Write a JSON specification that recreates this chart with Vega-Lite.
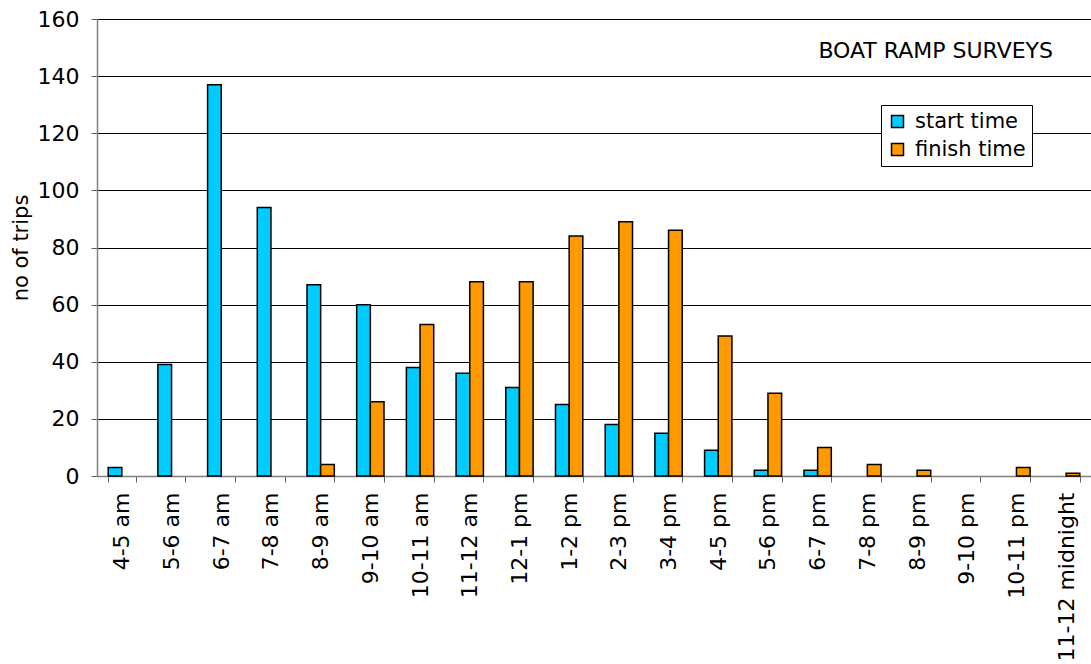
{
  "$schema": "https://vega.github.io/schema/vega-lite/v6.json",
  "width": 994,
  "height": 457,
  "autosize": {"type": "none"},
  "padding": {"left": 97, "top": 19, "right": 0, "bottom": 188},
  "background": "white",
  "title": {
    "text": "BOAT RAMP SURVEYS",
    "orient": "top",
    "anchor": "end",
    "frame": "group",
    "dx": -38,
    "dy": 59,
    "font": "DejaVu Sans",
    "fontSize": 22,
    "fontWeight": "normal",
    "color": "black"
  },
  "data": {
    "values": [
      {"time": "4-5 am", "series": "start time", "trips": 3},
      {"time": "4-5 am", "series": "finish time", "trips": 0},
      {"time": "5-6 am", "series": "start time", "trips": 39},
      {"time": "5-6 am", "series": "finish time", "trips": 0},
      {"time": "6-7 am", "series": "start time", "trips": 137},
      {"time": "6-7 am", "series": "finish time", "trips": 0},
      {"time": "7-8 am", "series": "start time", "trips": 94},
      {"time": "7-8 am", "series": "finish time", "trips": 0},
      {"time": "8-9 am", "series": "start time", "trips": 67},
      {"time": "8-9 am", "series": "finish time", "trips": 4},
      {"time": "9-10 am", "series": "start time", "trips": 60},
      {"time": "9-10 am", "series": "finish time", "trips": 26},
      {"time": "10-11 am", "series": "start time", "trips": 38},
      {"time": "10-11 am", "series": "finish time", "trips": 53},
      {"time": "11-12 am", "series": "start time", "trips": 36},
      {"time": "11-12 am", "series": "finish time", "trips": 68},
      {"time": "12-1 pm", "series": "start time", "trips": 31},
      {"time": "12-1 pm", "series": "finish time", "trips": 68},
      {"time": "1-2 pm", "series": "start time", "trips": 25},
      {"time": "1-2 pm", "series": "finish time", "trips": 84},
      {"time": "2-3 pm", "series": "start time", "trips": 18},
      {"time": "2-3 pm", "series": "finish time", "trips": 89},
      {"time": "3-4 pm", "series": "start time", "trips": 15},
      {"time": "3-4 pm", "series": "finish time", "trips": 86},
      {"time": "4-5 pm", "series": "start time", "trips": 9},
      {"time": "4-5 pm", "series": "finish time", "trips": 49},
      {"time": "5-6 pm", "series": "start time", "trips": 2},
      {"time": "5-6 pm", "series": "finish time", "trips": 29},
      {"time": "6-7 pm", "series": "start time", "trips": 2},
      {"time": "6-7 pm", "series": "finish time", "trips": 10},
      {"time": "7-8 pm", "series": "start time", "trips": 0},
      {"time": "7-8 pm", "series": "finish time", "trips": 4},
      {"time": "8-9 pm", "series": "start time", "trips": 0},
      {"time": "8-9 pm", "series": "finish time", "trips": 2},
      {"time": "9-10 pm", "series": "start time", "trips": 0},
      {"time": "9-10 pm", "series": "finish time", "trips": 0},
      {"time": "10-11 pm", "series": "start time", "trips": 0},
      {"time": "10-11 pm", "series": "finish time", "trips": 3},
      {"time": "11-12 midnight", "series": "start time", "trips": 0},
      {"time": "11-12 midnight", "series": "finish time", "trips": 1}
    ]
  },
  "transform": [{"filter": "datum.trips > 0"}],
  "mark": {"type": "bar", "stroke": "black", "strokeWidth": 1.5},
  "encoding": {
    "x": {
      "field": "time",
      "type": "nominal",
      "scale": {
        "domain": ["4-5 am", "5-6 am", "6-7 am", "7-8 am", "8-9 am", "9-10 am", "10-11 am", "11-12 am", "12-1 pm", "1-2 pm", "2-3 pm", "3-4 pm", "4-5 pm", "5-6 pm", "6-7 pm", "7-8 pm", "8-9 pm", "9-10 pm", "10-11 pm", "11-12 midnight"],
        "paddingInner": 0.45,
        "paddingOuter": 0.225
      },
      "axis": {
        "title": null,
        "labelAngle": -90,
        "labelFont": "DejaVu Sans",
        "labelFontSize": 22,
        "labelColor": "black",
        "labelPadding": 10,
        "tickBand": "extent",
        "tickSize": 6,
        "tickColor": "#606060",
        "domainColor": "#808080",
        "domainWidth": 1.5,
        "grid": false
      }
    },
    "xOffset": {"field": "series", "type": "nominal", "scale": {"domain": ["start time", "finish time"]}},
    "y": {
      "field": "trips",
      "type": "quantitative",
      "scale": {"domain": [0, 160]},
      "axis": {
        "values": [0, 20, 40, 60, 80, 100, 120, 140, 160],
        "title": "no of trips",
        "titleFont": "DejaVu Sans",
        "titleFontSize": 21,
        "titleFontWeight": "normal",
        "titleColor": "black",
        "titlePadding": 6,
        "labelFont": "DejaVu Sans",
        "labelFontSize": 22,
        "labelColor": "black",
        "labelPadding": 12,
        "tickSize": 6,
        "tickColor": "#606060",
        "domainColor": "#808080",
        "domainWidth": 1.5,
        "grid": true,
        "gridColor": "black",
        "gridWidth": 1
      }
    },
    "color": {
      "field": "series",
      "type": "nominal",
      "scale": {"domain": ["start time", "finish time"], "range": ["#00CCFF", "#FF9900"]},
      "legend": {
        "title": null,
        "orient": "none",
        "legendX": 784,
        "legendY": 86,
        "strokeColor": "black",
        "fillColor": "white",
        "padding": 6,
        "symbolType": "square",
        "symbolSize": 144,
        "symbolStrokeColor": "black",
        "symbolStrokeWidth": 1.5,
        "symbolOpacity": 1,
        "labelOffset": 7,
        "labelFont": "DejaVu Sans",
        "labelFontSize": 21,
        "labelColor": "black",
        "rowPadding": 6
      }
    }
  },
  "config": {"view": {"stroke": null}}
}
